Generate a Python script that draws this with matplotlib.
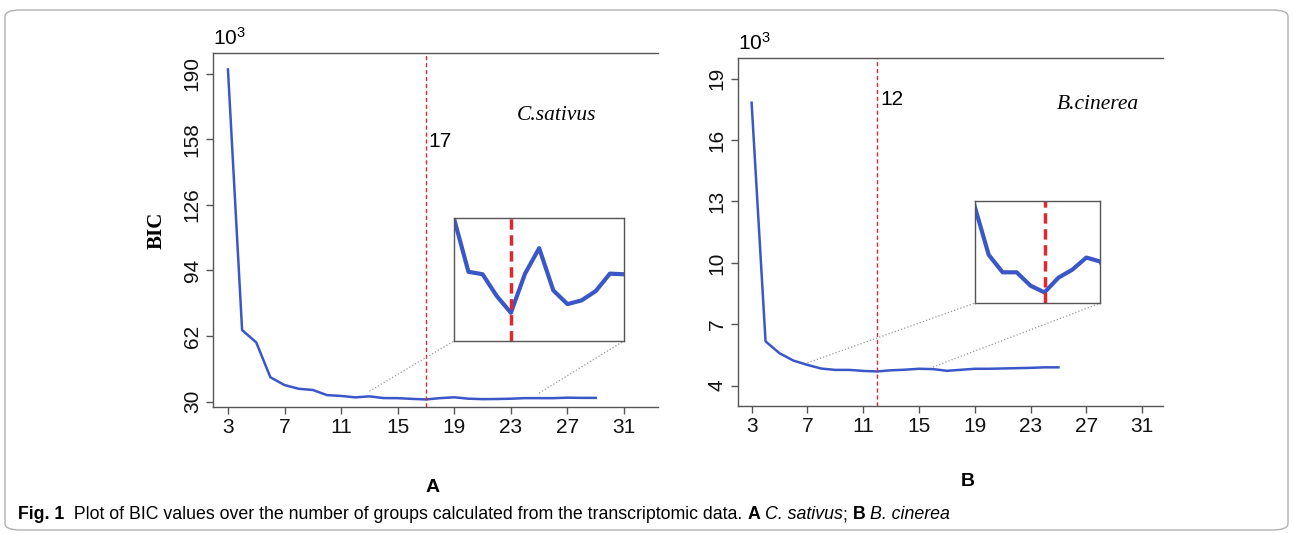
import numpy as np
import matplotlib.pyplot as plt
from matplotlib.patches import FancyBboxPatch

plt.rcParams['font.family'] = ['Liberation Sans', 'DejaVu Sans']
plt.rcParams['mathtext.default'] = 'regular'

# number of groups and BIC (x 10^3)
k_cs = list(range(3, 30))
bic_cs = [192.0, 64.9, 58.9, 41.9, 38.1, 36.3, 35.7, 33.2, 32.8, 32.1,
          32.60, 31.76, 31.72, 31.37, 31.10, 31.73, 32.14, 31.46, 31.24, 31.30,
          31.45, 31.73, 31.72, 31.72, 31.95, 31.85, 31.85]
best_cs = 17
zoom_cs = (13, 25)

k_bc = list(range(3, 26))
bic_bc = [17.83, 6.16, 5.58, 5.22, 5.01, 4.83, 4.765, 4.765, 4.715, 4.69,
          4.745, 4.775, 4.82, 4.805, 4.72, 4.77, 4.82, 4.82, 4.835, 4.85,
          4.865, 4.89, 4.89]
best_bc = 12
zoom_bc = (7, 16)

xticks = [3, 7, 11, 15, 19, 23, 27, 31]
yticks_cs = [30, 62, 94, 126, 158, 190]
yticks_bc = [4, 7, 10, 13, 16, 19]

blue = '#3a57c8'
red = '#e0282e'
spine_c = '#555555'

fig = plt.figure(figsize=(12.93, 5.34), dpi=100)

# rounded frame around the figure
frame = FancyBboxPatch((5 / 1293, 4 / 534), 1283 / 1293, 520 / 534,
                       boxstyle='round,pad=0,rounding_size=0.012',
                       transform=fig.transFigure, fc='none', ec='#b0b0b0', lw=1)
fig.patches.append(frame)


def panel(rect, k, bic, best, zoom, xlim, ylim, yticks, inset_box, inset_ylim,
          name, name_xy, best_y, conn_off):
    ax = fig.add_axes(rect)
    ax.plot(k, bic, color=blue, lw=1.8)
    ax.axvline(best, color=red, lw=1.0, ls=(0, (3, 2)))
    ax.set_xlim(xlim)
    ax.set_ylim(ylim)
    ax.set_xticks(xticks)
    ax.set_yticks(yticks)
    ax.spines['right'].set_visible(False)
    for s in ['left', 'top', 'bottom']:
        ax.spines[s].set_color(spine_c)
        ax.spines[s].set_linewidth(1.0)
    ax.tick_params(colors=spine_c, labelcolor='#111111', labelsize=15,
                   length=5, width=1.0, pad=3)
    ax.tick_params(axis='y', labelrotation=90)
    for lab in ax.get_yticklabels():
        lab.set_va('center')
    ax.text(0, 1.012, r'$10^3$', transform=ax.transAxes, fontsize=15,
            ha='left', va='bottom')
    ax.text(best + 0.2, best_y, str(best), fontsize=15, ha='left', va='center')
    ax.text(name_xy[0], name_xy[1], name, fontsize=15.5, style='italic',
            family='Liberation Serif', ha='left', va='center')

    # zoomed inset
    ins = ax.inset_axes(inset_box, transform=ax.transData)
    ins.plot(k, bic, color=blue, lw=3)
    ins.axvline(best, color=red, lw=2.5, ls=(0, (3, 1.6)))
    ins.set_xlim(zoom)
    ins.set_ylim(inset_ylim)
    ins.set_xticks([])
    ins.set_yticks([])
    for s in ins.spines.values():
        s.set_color(spine_c)
        s.set_linewidth(1.0)

    # connector lines
    i0 = k.index(zoom[0])
    i1 = k.index(zoom[1])
    x0, y0, w, h = inset_box
    ax.plot([zoom[0], x0], [bic[i0] + conn_off, y0], color='#999999', lw=0.9, ls=':')
    ax.plot([zoom[1], x0 + w], [bic[i1] + conn_off, y0], color='#999999', lw=0.9, ls=':')
    return ax


ax1 = panel([0.1647, 0.2378, 0.3442, 0.6629], k_cs, bic_cs, best_cs, zoom_cs,
            (1.94, 33.4), (27.4, 200), yticks_cs, [19, 59.7, 12, 60],
            (30.65, 32.63), 'C.sativus', (23.4, 169.7), 157, 2.5)
ax1.set_ylabel('BIC', family='Liberation Serif', fontweight='bold',
               fontsize=15, labelpad=12)

ax2 = panel([0.5705, 0.2397, 0.3290, 0.6511], k_bc, bic_bc, best_bc, zoom_bc,
            (2.0, 32.5), (3.0, 20.0), yticks_bc, [19, 8.03, 9, 4.98],
            (4.65, 5.03), 'B.cinerea', (24.9, 17.74), 18.0, 0.1)

fig.text(433 / 1293, 1 - 487 / 534, 'A', fontsize=14, fontweight='bold',
         ha='center', va='center')
fig.text(968 / 1293, 1 - 482 / 534, 'B', fontsize=14, fontweight='bold',
         ha='center', va='center')

# caption built from runs of text
cap_font = ['Liberation Sans', 'DejaVu Sans']
runs = [
    ('Fig. 1', 'bold', 'normal'),
    ('  Plot of BIC values over the number of groups calculated from the transcriptomic data. ', 'normal', 'normal'),
    ('A', 'bold', 'normal'),
    (' ', 'normal', 'normal'),
    ('C. sativus', 'normal', 'italic'),
    ('; ', 'normal', 'normal'),
    ('B', 'bold', 'normal'),
    (' ', 'normal', 'normal'),
    ('B. cinerea', 'normal', 'italic'),
]
renderer = fig.canvas.get_renderer()
cx = 18 / 1293
cy = 1 - 519 / 534
for txt, wt, st in runs:
    t = fig.text(cx, cy, txt, fontsize=12.8, fontweight=wt, style=st,
                 family=cap_font, ha='left', va='baseline')
    bb = t.get_window_extent(renderer)
    cx += bb.width / fig.bbox.width

fig.savefig('out.png', dpi=100)
